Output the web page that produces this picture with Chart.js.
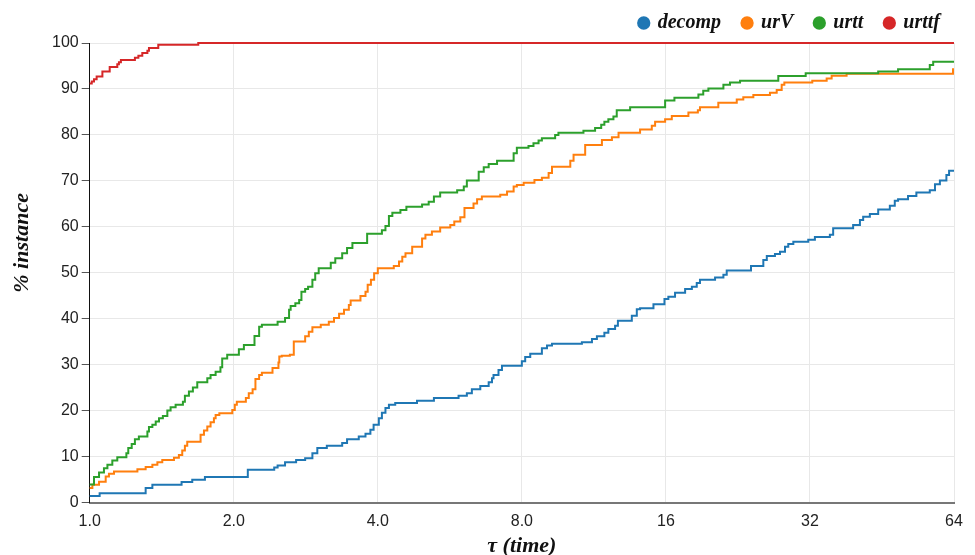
<!DOCTYPE html>
<html>
<head>
<meta charset="utf-8">
<script src="https://cdn.jsdelivr.net/npm/chart.js@4/dist/chart.umd.min.js"></script>
<style>
  html, body { margin: 0; padding: 0; background: #fff; }
  #wrap { width: 975px; height: 555px; position: relative; }
</style>
</head>
<body>
<div id="wrap"><canvas id="c"></canvas></div>
<script>
/* performance profile: % of instances solved within tau x best time.
   Step points (tau, % instance). */
var X_TICKS = [1, 2, 4, 8, 16, 32, 64];
var X_LABELS = ['1.0', '2.0', '4.0', '8.0', '16', '32', '64'];

var TAU_DECOMP = [1.0, 1.049, 1.309, 1.352, 1.556, 1.638, 1.741, 2.14, 2.43, 2.47, 2.56, 2.70, 2.82, 2.92, 2.99, 3.13, 3.37, 3.45, 3.65, 3.77, 3.86, 3.92, 4.02, 4.08, 4.15, 4.22, 4.35, 4.83, 5.24, 5.90, 6.14, 6.29, 6.55, 6.82, 6.93, 6.98, 7.15, 7.27, 8.0, 8.13, 8.33, 8.81, 9.03, 9.25, 10.68, 11.21, 11.48, 11.90, 12.13, 12.53, 12.70, 13.58, 13.91, 14.13, 15.07, 15.89, 16.19, 16.72, 17.55, 18.13, 18.56, 18.85, 20.27, 21.10, 21.44, 24.10, 25.57, 26.0, 27.04, 27.71, 28.38, 28.83, 29.54, 31.74, 32.77, 35.22, 35.78, 39.39, 40.70, 41.34, 42.69, 44.44, 47.0, 48.13, 48.9, 51.3, 53.4, 56.96, 58.4, 59.8, 61.7, 62.5, 64];
var PCT_DECOMP = [1.5, 2.1, 3.2, 3.9, 4.5, 5.0, 5.6, 7.2, 7.7, 8.1, 8.8, 9.3, 9.7, 10.8, 11.9, 12.4, 13.0, 13.8, 14.4, 15.0, 15.9, 17.0, 18.4, 19.6, 20.6, 21.3, 21.7, 22.2, 22.8, 23.3, 23.8, 24.7, 25.4, 26.2, 27.1, 27.8, 28.9, 29.8, 30.8, 31.7, 32.4, 33.6, 34.2, 34.6, 34.9, 35.6, 36.2, 37.0, 37.8, 38.5, 39.6, 40.7, 42.1, 42.3, 43.2, 44.3, 44.8, 45.7, 46.5, 47.0, 47.8, 48.5, 49.0, 49.6, 50.5, 51.5, 52.8, 53.7, 54.1, 54.6, 55.7, 56.3, 56.8, 57.2, 57.8, 58.3, 59.7, 60.4, 61.5, 62.2, 62.8, 63.8, 64.6, 65.7, 66.0, 66.7, 67.5, 68.0, 69.3, 70.1, 71.3, 72.2, 72.2];

var TAU_URV = [1.0, 1.013, 1.046, 1.080, 1.097, 1.124, 1.258, 1.309, 1.352, 1.385, 1.418, 1.500, 1.536, 1.561, 1.581, 1.599, 1.705, 1.733, 1.761, 1.789, 1.818, 1.833, 1.866, 1.986, 2.01, 2.03, 2.12, 2.15, 2.19, 2.22, 2.26, 2.29, 2.41, 2.48, 2.49, 2.52, 2.62, 2.67, 2.82, 2.87, 2.92, 3.04, 3.16, 3.24, 3.32, 3.40, 3.48, 3.51, 3.68, 3.77, 3.81, 3.87, 3.93, 4.0, 4.32, 4.43, 4.50, 4.57, 4.72, 4.95, 5.03, 5.19, 5.40, 5.67, 5.78, 5.95, 6.07, 6.34, 6.45, 6.60, 7.21, 7.45, 7.69, 7.81, 8.07, 8.50, 8.81, 9.10, 9.25, 10.10, 10.26, 10.85, 11.76, 12.34, 12.74, 14.13, 14.95, 15.19, 15.94, 16.46, 17.83, 18.66, 18.85, 20.59, 22.50, 23.22, 24.37, 26.40, 27.27, 27.93, 28.29, 32.36, 34.68, 35.52, 38.17, 63.7, 64];
var PCT_URV = [3.2, 3.9, 4.6, 5.7, 6.3, 6.8, 7.3, 7.8, 8.3, 8.8, 9.3, 9.8, 10.4, 11.4, 12.4, 13.3, 14.8, 15.7, 16.6, 17.5, 18.4, 19.1, 19.5, 20.2, 21.3, 22.0, 22.8, 23.8, 24.7, 26.9, 27.8, 28.3, 29.3, 30.5, 31.8, 32.0, 32.2, 35.1, 36.2, 37.2, 38.2, 38.7, 39.4, 40.2, 41.1, 42.0, 43.0, 44.0, 45.0, 45.9, 47.4, 48.5, 49.9, 51.0, 51.5, 52.5, 53.5, 54.3, 55.7, 57.5, 58.3, 59.0, 59.9, 60.4, 61.2, 62.1, 64.1, 65.1, 66.0, 66.6, 67.0, 67.7, 68.8, 69.1, 69.6, 70.2, 70.7, 71.7, 73.1, 74.4, 75.7, 77.8, 78.9, 79.5, 80.5, 81.2, 82.0, 82.9, 83.4, 84.1, 84.9, 85.4, 86.0, 87.0, 87.7, 88.2, 88.7, 89.2, 89.8, 90.9, 91.4, 91.8, 92.3, 92.9, 93.3, 94.3, 94.3];

var TAU_URTT = [1.0, 1.021, 1.046, 1.071, 1.089, 1.115, 1.142, 1.193, 1.204, 1.224, 1.243, 1.267, 1.320, 1.330, 1.352, 1.374, 1.396, 1.422, 1.453, 1.476, 1.512, 1.566, 1.581, 1.612, 1.643, 1.678, 1.761, 1.789, 1.833, 1.876, 1.892, 1.938, 2.05, 2.10, 2.21, 2.26, 2.29, 2.47, 2.56, 2.61, 2.63, 2.69, 2.74, 2.77, 2.82, 2.86, 2.92, 2.96, 3.01, 3.19, 3.26, 3.37, 3.45, 3.54, 3.80, 4.08, 4.15, 4.22, 4.29, 4.46, 4.59, 4.95, 5.11, 5.24, 5.40, 5.86, 6.05, 6.14, 6.50, 6.66, 6.82, 7.10, 7.69, 7.81, 8.26, 8.46, 8.67, 8.81, 9.39, 9.54, 10.76, 11.38, 11.72, 11.90, 12.13, 12.43, 12.63, 13.47, 15.94, 16.67, 18.71, 19.15, 19.63, 21.10, 21.78, 22.86, 27.48, 31.35, 44.44, 48.9, 56.96, 57.9, 64];
var PCT_URTT = [4.0, 5.6, 6.6, 7.5, 8.3, 9.2, 9.9, 10.8, 11.9, 12.8, 13.8, 14.4, 15.5, 16.5, 17.0, 17.7, 18.4, 18.9, 20.1, 20.8, 21.3, 22.0, 23.3, 24.2, 25.1, 26.2, 27.1, 27.8, 28.5, 29.5, 31.4, 32.2, 33.4, 34.3, 36.3, 38.3, 38.7, 39.4, 40.2, 42.0, 42.8, 43.4, 44.1, 45.9, 46.5, 47.0, 48.5, 49.9, 51.0, 52.2, 53.2, 54.3, 55.4, 56.5, 58.5, 59.3, 60.2, 62.4, 63.1, 63.7, 64.4, 64.9, 65.5, 66.6, 67.5, 68.0, 68.8, 70.1, 72.0, 73.0, 73.7, 74.4, 76.0, 77.2, 77.6, 78.2, 78.8, 79.3, 80.0, 80.5, 80.9, 81.5, 82.2, 82.9, 83.4, 84.0, 85.4, 86.0, 87.5, 88.1, 88.8, 89.6, 90.1, 90.9, 91.4, 91.8, 92.8, 93.4, 93.8, 94.3, 95.2, 95.9, 95.9];

var TAU_URTTF = [1.0, 1.01, 1.021, 1.034, 1.063, 1.101, 1.142, 1.151, 1.162, 1.243, 1.264, 1.288, 1.32, 1.33, 1.391, 1.686, 64];
var PCT_URTTF = [91.2, 91.6, 92.1, 92.7, 93.8, 94.8, 95.4, 95.8, 96.3, 96.8, 97.2, 97.8, 98.3, 98.9, 99.6, 100, 100];

var COLORS = { decomp: '#1f77b4', urV: '#ff7f0e', urtt: '#2ca02c', urttf: '#d62728' };
var SANS = '"Liberation Sans", Arial, sans-serif';
var SERIF = '"Liberation Serif", "Times New Roman", serif';

function pts(xs, ys) {
  var out = [];
  for (var i = 0; i < xs.length; i++) out.push({ x: xs[i], y: ys[i] });
  return out;
}

// later series paint over earlier ones (lower `order` is drawn last)
function series(label, xs, ys, order) {
  return {
    label: label,
    data: pts(xs, ys),
    borderColor: COLORS[label],
    backgroundColor: COLORS[label],
    borderWidth: 2,
    pointRadius: 0,
    pointHoverRadius: 0,
    stepped: 'before',
    clip: 4,
    order: order
  };
}

// y title sits a little above the plot's middle in the reference, so draw it by hand
var yTitle = {
  id: 'yTitle',
  afterDraw: function (c) {
    var g = c.ctx, a = c.chartArea;
    g.save();
    g.translate(22, (a.top + a.bottom) / 2 - 30);
    g.rotate(-Math.PI / 2);
    g.font = 'italic bold 22px ' + SERIF;
    g.fillStyle = '#111';
    g.textAlign = 'center';
    g.textBaseline = 'middle';
    g.fillText('% instance', 0, 0);
    g.restore();
  }
};

new Chart(document.getElementById('c'), {
  type: 'line',
  data: {
    datasets: [
      series('decomp', TAU_DECOMP, PCT_DECOMP, 3),
      series('urV', TAU_URV, PCT_URV, 2),
      series('urtt', TAU_URTT, PCT_URTT, 1),
      series('urttf', TAU_URTTF, PCT_URTTF, 0)
    ]
  },
  options: {
    responsive: true,
    maintainAspectRatio: false,
    animation: false,
    layout: { padding: { top: -9, right: 13, left: 49, bottom: -2 } },
    plugins: {
      tooltip: { enabled: false },
      legend: {
        position: 'top',
        align: 'end',
        labels: {
          usePointStyle: true,
          pointStyle: 'circle',
          boxWidth: 8,
          boxHeight: 8,
          padding: 22,
          color: '#111',
          font: { family: SERIF, size: 20, style: 'italic', weight: 'bold' },
          sort: function (a, b) { return a.datasetIndex - b.datasetIndex; }
        }
      }
    },
    scales: {
      x: {
        type: 'logarithmic',
        min: 1,
        max: 64,
        afterBuildTicks: function (s) {
          s.ticks = X_TICKS.map(function (v) { return { value: v }; });
        },
        afterFit: function (s) { s.paddingRight = 21; },
        ticks: {
          autoSkip: false,
          maxRotation: 0,
          padding: 9.5,
          color: '#222',
          font: { family: SANS, size: 16 },
          callback: function (v, i) { return X_LABELS[i]; }
        },
        grid: { color: '#e8e8e8', drawTicks: false },
        border: { color: '#777', width: 2 },
        title: {
          display: true,
          text: 'τ (time)',
          color: '#111',
          padding: { top: -6, bottom: 0 },
          font: { family: SERIF, size: 22, style: 'italic', weight: 'bold', lineHeight: 1 }
        }
      },
      y: {
        min: 0,
        max: 100,
        ticks: {
          stepSize: 10,
          padding: 3,
          color: '#222',
          font: { family: SANS, size: 16 }
        },
        grid: { color: '#e8e8e8', tickColor: '#555', tickLength: 8 },
        border: { color: '#111', width: 1 }
      }
    }
  },
  plugins: [yTitle]
});
</script>
</body>
</html>
